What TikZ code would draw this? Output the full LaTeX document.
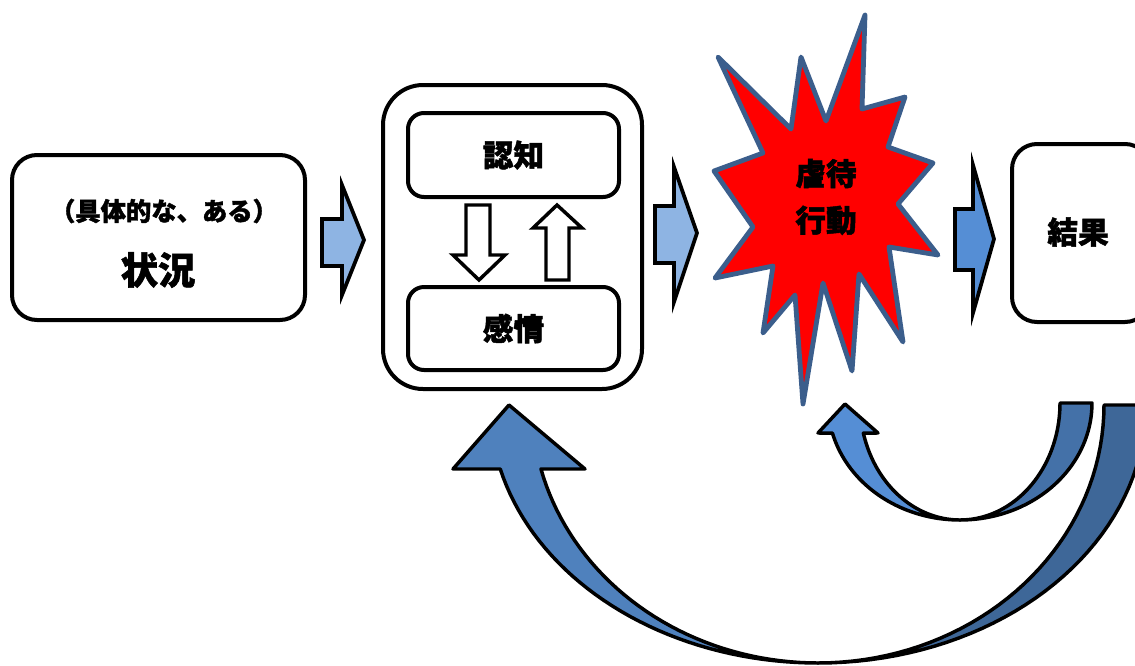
\documentclass[tikz,border=0pt]{standalone}
\usepackage{fontspec}
\newfontfamily\jp{Noto Sans CJK JP}[BoldFeatures={FakeBold=1.5}]
\definecolor{lightarrow}{HTML}{8EB4E3}
\definecolor{midarrow}{HTML}{558ED5}
\definecolor{starstroke}{HTML}{3B5E8C}
\definecolor{bigL}{HTML}{4F81BD}
\definecolor{bigR}{HTML}{3E6798}
\definecolor{smallL}{HTML}{558ED5}
\definecolor{smallR}{HTML}{4471A8}
\begin{document}
\begin{tikzpicture}[x=0.75pt,y=-0.75pt,
  box/.style={draw=black, line width=3pt, fill=white, inner sep=0pt},
  blockarrow/.style={draw=black, line width=2.8pt, line join=miter},
  hollowarrow/.style={draw=black, line width=2.6pt, fill=white, line join=miter},
  curvearrow/.style={draw=black, line width=2.6pt, line join=round},
  jtxt/.style={font=\jp\bfseries\fontsize{23}{35}\selectfont, inner sep=0pt, align=center}]
\useasboundingbox (0,0) rectangle (1135,665);
\clip (0,0) rectangle (1135,665);

% big curved arrow
\filldraw[curvearrow, fill=bigR]
  plot[domain=90:0, samples=40, variable=\t] ({818+328*cos(\t)},{405+258*sin(\t)})
  -- plot[domain=0:90, samples=40, variable=\t] ({818+286*cos(\t)},{405+258*sin(\t)}) -- cycle;
\filldraw[curvearrow, fill=bigL]
  plot[domain=165.64:90, samples=40, variable=\t] ({818+328*cos(\t)},{405+258*sin(\t)})
  -- plot[domain=90:165.64, samples=40, variable=\t] ({818+286*cos(\t)},{405+258*sin(\t)})
  -- (585,469) -- (509,405) -- (453,469) -- cycle;

% small curved arrow
\filldraw[curvearrow, fill=smallR]
  plot[domain=90:0, samples=40, variable=\t] ({960+132*cos(\t)},{403+117*sin(\t)})
  -- plot[domain=0:90, samples=40, variable=\t] ({960+100*cos(\t)},{403+117*sin(\t)}) -- cycle;
\filldraw[curvearrow, fill=smallL]
  plot[domain=165.1:90, samples=40, variable=\t] ({960+132*cos(\t)},{403+117*sin(\t)})
  -- plot[domain=90:165.1, samples=40, variable=\t] ({960+100*cos(\t)},{403+117*sin(\t)})
  -- (878,433) -- (845,404) -- (818,433) -- cycle;

% situation box
\node[box, rounded corners=18.75pt, minimum width=293*0.75pt, minimum height=165*0.75pt] (sit) at (158.5,237.5) {};
\node[font=\jp\bfseries\fontsize{19}{22}\selectfont, inner sep=0pt] (sit1) at (164,211) {（具体的な、ある）};
\node[font=\jp\bfseries\fontsize{28}{32}\selectfont, inner sep=0pt] (sit2) at (158,270) {状況};

% arrow 1
\filldraw[blockarrow, fill=lightarrow] (322,219) -- (342,219) -- (342,185) -- (364,240) -- (342,295) -- (342,266) -- (322,266) -- cycle;

% outer box with cognition / emotion
\node[box, rounded corners=30pt, minimum width=259*0.75pt, minimum height=304*0.75pt] (outer) at (512.5,237) {};
\node[box, jtxt, rounded corners=12pt, minimum width=211*0.75pt, minimum height=84*0.75pt] (cog) at (513.5,155) {認知};
\node[box, jtxt, rounded corners=12pt, minimum width=211*0.75pt, minimum height=83*0.75pt] (emo) at (513.5,328.5) {感情};
\filldraw[hollowarrow] (466,205) -- (490,205) -- (490,255) -- (505,255) -- (479,280) -- (453,255) -- (466,255) -- cycle;
\filldraw[hollowarrow] (546,280) -- (569,280) -- (569,228) -- (582,228) -- (557,205) -- (533,228) -- (546,228) -- cycle;

% arrow 2
\filldraw[blockarrow, fill=lightarrow] (655,206) -- (674,206) -- (674,167) -- (697,233) -- (674,302) -- (674,263) -- (655,263) -- cycle;

% starburst
\filldraw[draw=starstroke, fill=red, line width=3.6pt, line join=round]
  (718,57) -- (791,129) -- (801,57) -- (826,121) -- (865,15) -- (862,109) -- (905,97) -- (888,147)
  -- (933,163) -- (898,204) -- (938,255) -- (889,247) -- (903,342) -- (859,274) -- (852,371)
  -- (823,283) -- (803,404) -- (795,295) -- (763,333) -- (773,266) -- (715,278) -- (753,227)
  -- (714,171) -- (763,153) -- cycle;
\node[jtxt] (abuse) at (826,197) {虐待\\行動};

% arrow 3
\filldraw[blockarrow, fill=midarrow] (955,209) -- (973,209) -- (973,165) -- (994,239) -- (973,313) -- (973,270) -- (955,270) -- cycle;

% result box
\node[box, rounded corners=18.75pt, minimum width=138*0.75pt, minimum height=178*0.75pt] (res) at (1081,233) {};
\node[jtxt] (restxt) at (1078,232) {結果};
\end{tikzpicture}
\end{document}
